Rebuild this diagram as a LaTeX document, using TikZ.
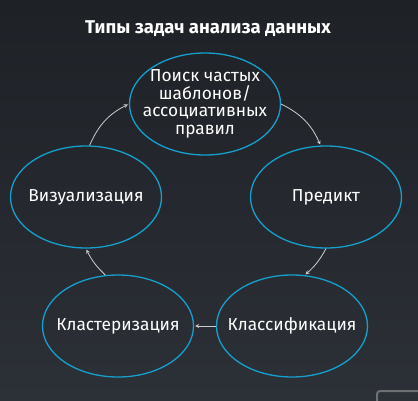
\documentclass[tikz,border=0pt]{standalone}
\usepackage{fontspec}
\setmainfont{Fira Sans}
\usetikzlibrary{shapes.geometric}
\definecolor{ringblue}{RGB}{22,160,205}
\definecolor{bgtop}{RGB}{30,33,38}
\definecolor{bgbottom}{RGB}{44,48,55}
\definecolor{arrowgrey}{RGB}{205,205,205}
\definecolor{tabgrey}{RGB}{110,112,116}

\begin{document}
\begin{tikzpicture}[x=1pt,y=-1pt,-,>=stealth,shorten >=1pt,main node/.style={ellipse,draw=ringblue,line width=1.3pt,minimum width=151pt,minimum height=102pt,inner xsep=-14pt,inner ysep=0pt,text=white,align=center,font=\fontsize{17.3}{17.5}\selectfont},link/.style={->,draw=arrowgrey,line width=0.8pt}]

            \useasboundingbox (0,0) rectangle (418,400);
            \shade[top color=bgtop,bottom color=bgbottom] (0,0) rectangle (418,400);

            \node[text=white,font=\bfseries\fontsize{18.5}{20}\selectfont] (title) at (208,29) {Типы задач анализа данных};

            \node[main node] (1) at (205,104) {Поиск частых\\шаблонов/\\ассоциативных\\правил};
            \node[main node] (2) at (326,197) {Предикт};
            \node[main node] (3) at (292,326) {Классификация};
            \node[main node] (4) at (118,326) {Кластеризация};
            \node[main node] (5) at (86,197) {Визуализация};

            \draw[link] (5.86) to[bend left=20] (1.180);
            \draw[link] (1.0) to[bend left=20] (2.96);
            \draw[link] (2.270) to[bend left=10] (3.76);
            \draw[link] (3.180) to (4.0);
            \draw[link] (4.104) to[bend left=10] (5.270);

            \begin{scope}
            \clip (0,0) rectangle (418,400);
            \draw[tabgrey,line width=2pt,rounded corners=3pt] (377,391) rectangle (440,420);
            \end{scope}

            ;
        \end{tikzpicture}
\end{document}
